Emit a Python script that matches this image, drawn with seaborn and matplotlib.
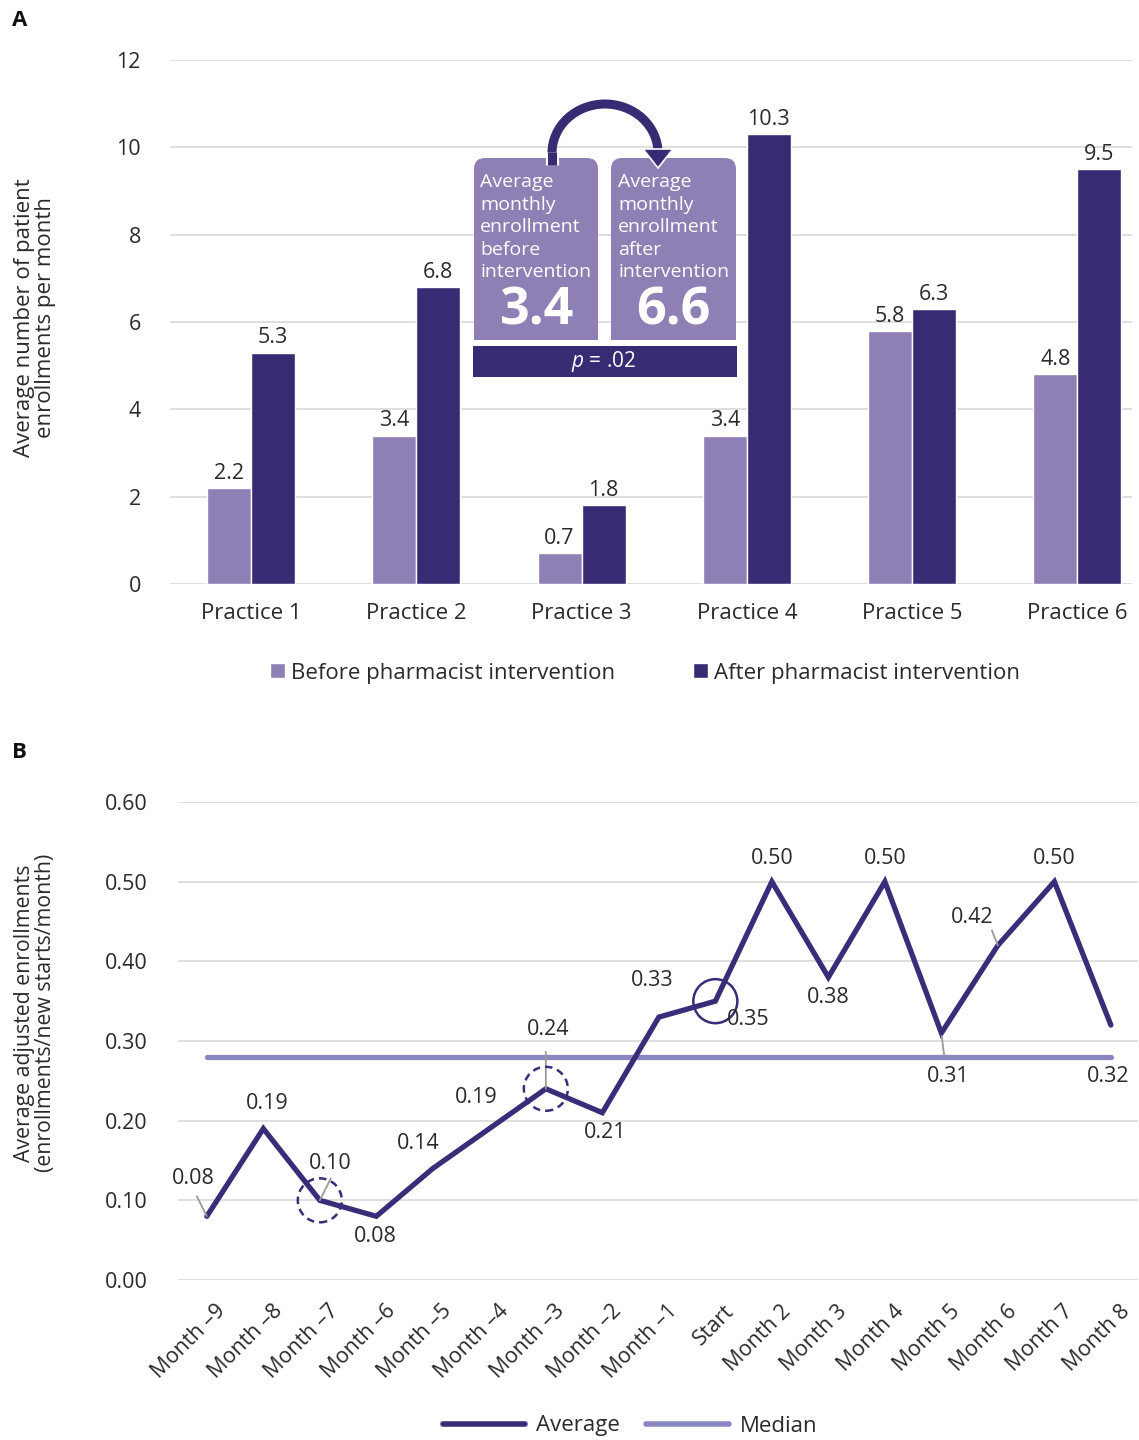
import numpy as np
import pandas as pd
import seaborn as sns
import matplotlib.pyplot as plt
from matplotlib.patches import FancyBboxPatch, Rectangle, Arc, Polygon, Ellipse, Patch
from matplotlib.lines import Line2D
import matplotlib.transforms as mtransforms
import matplotlib.patheffects as pe

# ---------------- data ----------------
practices = ["Practice 1", "Practice 2", "Practice 3", "Practice 4", "Practice 5", "Practice 6"]
before = [2.2, 3.4, 0.7, 3.4, 5.8, 4.8]
after = [5.3, 6.8, 1.8, 10.3, 6.3, 9.5]
period_names = ["Before pharmacist intervention", "After pharmacist intervention"]
yticks_a = [0, 2, 4, 6, 8, 10, 12]

months = ["Month \u20139", "Month \u20138", "Month \u20137", "Month \u20136", "Month \u20135",
          "Month \u20134", "Month \u20133", "Month \u20132", "Month \u20131", "Start",
          "Month 2", "Month 3", "Month 4", "Month 5", "Month 6", "Month 7", "Month 8"]
average = [0.08, 0.19, 0.10, 0.08, 0.14, 0.19, 0.24, 0.21, 0.33, 0.35,
           0.50, 0.38, 0.50, 0.31, 0.42, 0.50, 0.32]
median = [0.28, 0.28, 0.28, 0.28, 0.28, 0.28, 0.28, 0.28, 0.28, 0.28,
          0.28, 0.28, 0.28, 0.28, 0.28, 0.28, 0.28]
yticks_b = [0.0, 0.1, 0.2, 0.3, 0.4, 0.5, 0.6]

avg_before_txt = "3.4"
avg_after_txt = "6.6"
p_txt = "$p$ = .02"

# ---------------- style ----------------
C_BEFORE = "#8E80B4"
C_AFTER = "#382B73"
C_AVG = "#3A2C79"
C_MED = "#8A86BF"
C_GRID = "#d9d9d9"
C_TXT = "#2a2a2a"
FS = 15.5

sns.set_theme(style="white")
plt.rcParams["font.family"] = ["Open Sans", "DejaVu Sans"]
plt.rcParams["mathtext.fontset"] = "custom"
plt.rcParams["mathtext.it"] = "Open Sans:italic"
plt.rcParams["mathtext.rm"] = "Open Sans"

W, H = 1139, 1440
fig = plt.figure(figsize=(W / 100, H / 100), dpi=100)
fig.patch.set_facecolor("white")


def fx(px):
    return px / W


def fy(py):
    return 1 - py / H


# ---------------- panel A ----------------
axA = fig.add_axes([fx(170), fy(584), fx(1132) - fx(170), fy(60) - fy(584)])
dfA = pd.DataFrame({
    "Practice": practices * 2,
    "Value": before + after,
    "Period": [period_names[0]] * len(practices) + [period_names[1]] * len(practices),
})
sns.barplot(data=dfA, x="Practice", y="Value", hue="Period",
            palette=[C_BEFORE, C_AFTER], width=0.532, errorbar=None,
            legend=False, saturation=1, ax=axA, zorder=2)
for cont in axA.containers:
    axA.bar_label(cont, fmt="%.1f", padding=3, fontsize=FS, color=C_TXT)
axA.set_ylim(0, 12)
axA.set_yticks(yticks_a)
axA.set_xlim(-0.49, 5.33)
axA.yaxis.grid(True, color=C_GRID, lw=1.2)
axA.set_axisbelow(True)
sns.despine(ax=axA, left=True, bottom=True)
axA.tick_params(axis="y", length=0, pad=21, labelsize=FS, labelcolor=C_TXT)
axA.tick_params(axis="x", length=0, pad=14, labelsize=16, labelcolor=C_TXT)
axA.set_xlabel("")
axA.set_ylabel("")

fig.text(fx(35), fy(318), "Average number of patient\nenrollments per month",
         rotation=90, ha="center", va="center", fontsize=16, color=C_TXT,
         multialignment="center", linespacing=1.05)

fig.legend(handles=[Patch(fc=C_BEFORE), Patch(fc=C_AFTER)], labels=period_names,
           loc="center", bbox_to_anchor=(fx(645), fy(673)), ncol=2, frameon=False,
           fontsize=16, handlelength=0.68, handleheight=0.68, handletextpad=0.28,
           columnspacing=3.5, labelcolor=C_TXT)

fig.text(fx(12), fy(20), "A", fontsize=16, fontweight="bold", va="center", color="#111")
fig.text(fx(12), fy(752), "B", fontsize=16, fontweight="bold", va="center", color="#111")

# ---------------- panel A inset (pixel overlay) ----------------
axO = fig.add_axes([0, 0, 1, 1])
axO.set_xlim(0, W)
axO.set_ylim(H, 0)
axO.axis("off")
axO.set_zorder(5)

for x0, w in [(474, 124), (611, 125)]:
    axO.add_patch(FancyBboxPatch((x0, 158), w, 182, boxstyle="round,pad=0,rounding_size=11",
                                 fc=C_BEFORE, ec="none"))
    axO.add_patch(Rectangle((x0, 250), w, 90, fc=C_BEFORE, ec="none"))
axO.add_patch(Rectangle((473, 346), 264, 31, fc=C_AFTER, ec="none"))

lines_l = ["Average", "monthly", "enrollment", "before", "intervention"]
lines_r = ["Average", "monthly", "enrollment", "after", "intervention"]
for k, (a, b) in enumerate(zip(lines_l, lines_r)):
    yy = 182 + k * 22.6
    axO.text(480, yy, a, color="white", fontsize=14, va="center", ha="left")
    axO.text(618, yy, b, color="white", fontsize=14, va="center", ha="left")
axO.text(536, 311, avg_before_txt, color="white", fontsize=37.5, fontweight="bold",
         ha="center", va="center")
axO.text(673, 311, avg_after_txt, color="white", fontsize=37.5, fontweight="bold",
         ha="center", va="center")
axO.text(604, 362, p_txt, color="white", fontsize=15, ha="center", va="center")

axO.add_patch(Arc((605, 153), 106, 98, theta1=180, theta2=360, lw=6.5, color=C_AFTER))
axO.plot([552, 552], [152, 165], color=C_AFTER, lw=6.5, solid_capstyle="butt",
         path_effects=[pe.Stroke(linewidth=9.5, foreground="white"), pe.Normal()])
axO.add_patch(Polygon([(643, 149), (673, 149), (658, 168)], closed=True,
                      fc=C_AFTER, ec="white", lw=1.2, joinstyle="miter"))

# ---------------- panel B ----------------
axB = fig.add_axes([fx(178), fy(1280), fx(1138) - fx(178), fy(802) - fy(1280)])
dfB = pd.DataFrame({"Month": months, "Average": average, "Median": median})
sns.lineplot(data=dfB, x="Month", y="Median", sort=False, color=C_MED, lw=3.8,
             ax=axB, zorder=2, solid_capstyle="round")
sns.lineplot(data=dfB, x="Month", y="Average", sort=False, color=C_AVG, lw=3.8,
             ax=axB, zorder=3, solid_capstyle="round", solid_joinstyle="miter")
axB.set_ylim(0, 0.6)
axB.set_yticks(yticks_b)
axB.set_yticklabels([f"{v:.2f}" for v in yticks_b])
axB.set_xlim(-0.51, 16.48)
axB.yaxis.grid(True, color=C_GRID, lw=1.2)
axB.set_axisbelow(True)
sns.despine(ax=axB, left=True, bottom=True)
axB.tick_params(axis="y", length=0, pad=22, labelsize=FS, labelcolor=C_TXT)
axB.tick_params(axis="x", length=0, pad=15, labelsize=FS, labelcolor=C_TXT)
axB.set_xticks(range(len(months)))
axB.set_xticklabels(months, rotation=45, ha="right", rotation_mode="anchor")
off = mtransforms.ScaledTranslation(6 / 72, 0, fig.dpi_scale_trans)
for lab in axB.get_xticklabels():
    lab.set_transform(lab.get_transform() + off)
axB.set_xlabel("")
axB.set_ylabel("")

fig.text(fx(35), fy(1013), "Average adjusted enrollments\n(enrollments/new starts/month)",
         rotation=90, ha="center", va="center", fontsize=15.3, color=C_TXT,
         multialignment="center", linespacing=1.05)

# point labels (offsets in pixels)
label_offsets = [(-14, 38), (4, 25), (10, 37), (-1, -20), (-15, 25), (-13, 31), (2, 59),
                 (3, -20), (-7, 37), (33, -18), (0, 23), (0, -20), (0, 23), (7, -43),
                 (-26, 28), (0, 23), (-3, -51)]
for i, (v, (dx, dy)) in enumerate(zip(average, label_offsets)):
    axB.annotate(f"{v:.2f}", xy=(i, v), xytext=(dx, dy), textcoords="offset pixels",
                 ha="center", va="center", fontsize=FS, color=C_TXT, zorder=6)

leaders = {0: ((-10, 20), (0, 2)), 2: ((11, 22), (2, 0)), 6: ((0, 37), (0, 2)),
           14: ((-6, 15), (0, 2))}
for i, ((x1, y1), (x2, y2)) in leaders.items():
    axB.annotate("", xy=(i, average[i]), xytext=(x1, y1), textcoords="offset pixels",
                 arrowprops=dict(arrowstyle="-", color="#9a9a9a", lw=1.3,
                                 shrinkA=0, shrinkB=0), zorder=4)
# leader ending at median line for Month 5
axB.annotate("", xy=(13, average[13]), xytext=(3, -24), textcoords="offset pixels",
             arrowprops=dict(arrowstyle="-", color="#9a9a9a", lw=1.3, shrinkA=0, shrinkB=2),
             zorder=4)

# highlight circles
px_x = 56.5
px_y = 796.7
for i, ls in [(2, (0, (3, 2))), (6, (0, (3, 2))), (9, "-")]:
    axB.add_patch(Ellipse((i, average[i]), width=44 / px_x, height=44 / px_y,
                          fill=False, ec=C_AVG, lw=1.8, ls=ls, zorder=5))

fig.legend(handles=[Line2D([], [], color=C_AVG, lw=4), Line2D([], [], color=C_MED, lw=4)],
           labels=["Average", "Median"], loc="center", bbox_to_anchor=(fx(630), fy(1426)),
           ncol=2, frameon=False, fontsize=16, handlelength=3.7, handletextpad=0.5,
           columnspacing=1.2, labelcolor=C_TXT)

fig.savefig("out.png", dpi=100, facecolor="white")
